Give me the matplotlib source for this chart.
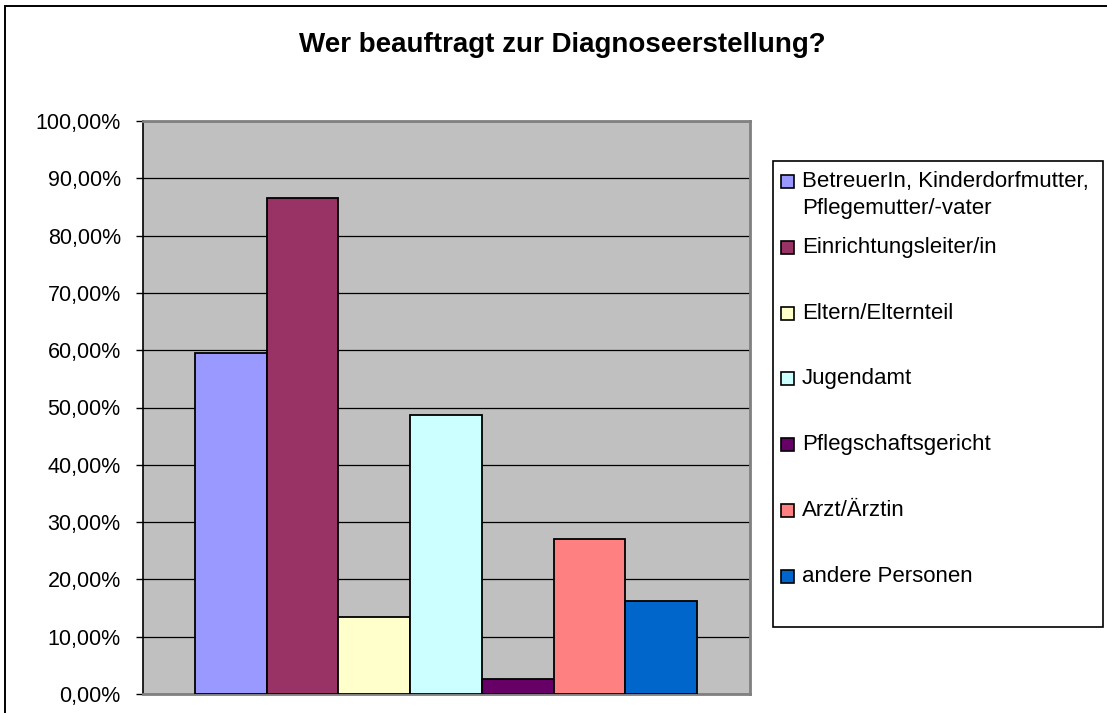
import matplotlib.pyplot as plt
from matplotlib.patches import Rectangle
from matplotlib.ticker import FuncFormatter

plt.rcParams['font.family'] = ['Liberation Sans', 'DejaVu Sans']

title = "Wer beauftragt zur Diagnoseerstellung?"
categories = ["BetreuerIn, Kinderdorfmutter,\nPflegemutter/-vater",
              "Einrichtungsleiter/in", "Eltern/Elternteil", "Jugendamt",
              "Pflegschaftsgericht", "Arzt/Ärztin", "andere Personen"]
values = [59.46, 86.49, 13.51, 48.65, 2.70, 27.03, 16.22]
colors = ["#9999FF", "#993366", "#FFFFCC", "#CCFFFF", "#660066", "#FF8080", "#0066CC"]
yticks = list(range(0, 101, 10))

W, H = 1107, 713
fig = plt.figure(figsize=(W / 100, H / 100), dpi=100)

# outer frame (right/bottom run off the picture)
fig.patches.append(Rectangle((5 / W, -0.05), 1.2, 1 - 6 / H + 0.05,
                             transform=fig.transFigure, fill=False,
                             edgecolor="black", lw=1.4))

ax = fig.add_axes([143 / W, 1 - 694 / H, (750 - 143) / W, (694 - 121) / H])
ax.set_facecolor("#C0C0C0")
x = list(range(len(values)))
ax.bar(x, values, width=1.0, color=colors, edgecolor="black", linewidth=1.3, zorder=3)
ax.set_xlim(-1.225, 7.24)
ax.set_ylim(0, 100)
ax.set_yticks(yticks)
ax.yaxis.set_major_formatter(FuncFormatter(lambda v, p: f"{v:.2f}%".replace(".", ",")))
ax.set_xticks([])
ax.tick_params(axis="y", direction="out", length=5, width=1, labelsize=15.5, pad=11)
ax.grid(axis="y", color="black", lw=0.9, zorder=1)
ax.set_axisbelow(True)
for s in ["top", "right", "bottom"]:
    ax.spines[s].set_color("#808080")
    ax.spines[s].set_linewidth(2)
ax.spines["left"].set_color("black")
ax.spines["left"].set_linewidth(1.2)

fig.text(562 / W, 1 - 45 / H, title, ha="center", va="center",
         fontsize=20, fontweight="bold")

# legend drawn by hand to get the evenly spaced Excel layout
fig.patches.append(Rectangle((772.5 / W, 1 - 627 / H), (1103 - 772.5) / W, (627 - 161) / H,
                             transform=fig.transFigure, fill=False,
                             edgecolor="black", lw=1.2))
for i, (lab, c) in enumerate(zip(categories, colors)):
    yc = 181.5 + i * 65.8
    fig.patches.append(Rectangle((781 / W, 1 - (yc + 6.5) / H), 13 / W, 13 / H,
                                 transform=fig.transFigure, facecolor=c,
                                 edgecolor="black", lw=1.2))
    for j, line in enumerate(lab.split("\n")):
        fig.text(802 / W, 1 - (yc + j * 27) / H, line, ha="left", va="center",
                 fontsize=16)

fig.savefig("out.png", dpi=100)
